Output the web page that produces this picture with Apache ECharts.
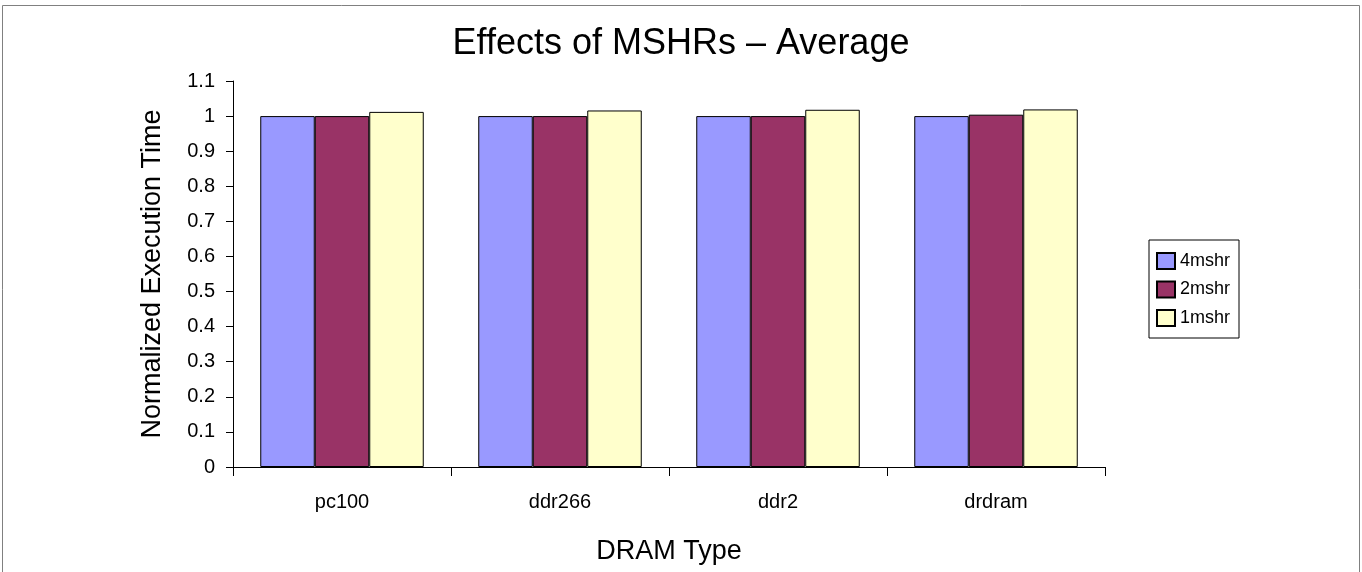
<!DOCTYPE html>
<html><head><meta charset="utf-8">
<script src="https://cdn.jsdelivr.net/npm/echarts@6/dist/echarts.min.js"></script>
<style>html,body{margin:0;padding:0;background:#fff}#c{width:1362px;height:572px}</style>
</head><body><div id="c"></div>
<script>
const categories = ['pc100', 'ddr266', 'ddr2', 'drdram'];
const seriesNames = ['4mshr', '2mshr', '1mshr'];
const mshr4 = [1.0, 1.0, 1.0, 1.0];
const mshr2 = [1.0, 1.0, 1.0, 1.004];
const mshr1 = [1.012, 1.016, 1.018, 1.019];
const colors = ['#9999FF', '#993366', '#FFFFCC'];
const values = [mshr4, mshr2, mshr1];
const F = 'Liberation Sans, Arial, sans-serif';
const chart = echarts.init(document.getElementById('c'));
chart.setOption({
  animation: false,
  textStyle: { fontFamily: F },
  graphic: [{ type: 'rect', shape: { x: 2.5, y: 5.5, width: 1357, height: 580 }, style: { fill: 'none', stroke: '#808080', lineWidth: 1 } }],
  title: { text: 'Effects of MSHRs \u2013 Average', left: 'center', top: 21, textStyle: { fontFamily: F, fontSize: 36, fontWeight: 'normal', color: '#000' } },
  legend: {
    orient: 'vertical', left: 1149, top: 240,
    icon: 'rect',
    itemWidth: 18, itemHeight: 16, itemGap: 10.5,
    padding: [12, 9, 11, 7],
    borderColor: '#000', borderWidth: 1,
    textStyle: { fontFamily: F, fontSize: 18, lineHeight: 16, color: '#000' },
    data: seriesNames
  },
  grid: { left: 233, right: 257, top: 81, bottom: 105, containLabel: false },
  xAxis: {
    type: 'category', data: categories,
    name: 'DRAM Type', nameLocation: 'middle', nameGap: 71,
    nameTextStyle: { fontFamily: F, fontSize: 27, color: '#000' },
    axisLine: { lineStyle: { color: '#000', width: 1 } },
    axisTick: { show: true, alignWithLabel: false, length: 9, lineStyle: { color: '#000' } },
    axisLabel: { fontFamily: F, fontSize: 20, color: '#000', margin: 25 }
  },
  yAxis: {
    type: 'value', min: 0, max: 1.1, interval: 0.1,
    name: 'Normalized Execution Time', nameLocation: 'middle', nameGap: 67,
    nameTextStyle: { fontFamily: F, fontSize: 27, color: '#000' },
    axisLine: { show: true, lineStyle: { color: '#000', width: 1 } },
    axisTick: { show: true, length: 7, lineStyle: { color: '#000' } },
    axisLabel: { fontFamily: F, fontSize: 20, color: '#000', margin: 18, formatter: v => String(Math.round(v * 10) / 10) },
    splitLine: { show: false }
  },
  series: seriesNames.map((n, i) => ({
    name: n, type: 'bar', data: values[i],
    barGap: '0%', barCategoryGap: '25%',
    itemStyle: { color: colors[i], borderColor: '#000', borderWidth: 1 }
  }))
});
</script></body></html>
